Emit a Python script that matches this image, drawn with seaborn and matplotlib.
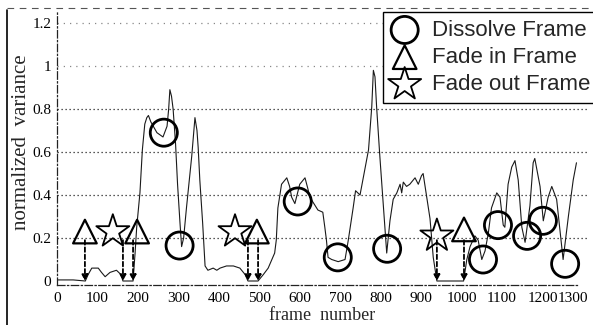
"""Normalized variance per frame with dissolve / fade-in / fade-out frames marked."""
import numpy as np
import pandas as pd
import matplotlib
matplotlib.use("Agg")
import matplotlib.pyplot as plt
import matplotlib.transforms as mtransforms
import seaborn as sns
from matplotlib.lines import Line2D

# --- data ---
FRAMES = [0, 40, 70, 77, 86, 102, 110, 119, 131, 147, 158, 163, 188, 193, 197,
          205, 211, 217, 222, 226, 232, 247, 262, 272, 276, 279, 283, 287, 293,
          298, 304, 308, 313, 320, 333, 341, 346, 349, 353, 360, 366, 373, 386,
          395, 403, 419, 436, 452, 465, 472, 497, 510, 522, 531, 538, 542, 546,
          555, 568, 575, 580, 588, 600, 613, 620, 625, 645, 657, 662, 666, 670,
          679, 695, 712, 720, 732, 738, 749, 757, 761, 770, 778, 782, 786, 790,
          798, 807, 815, 823, 831, 840, 848, 852, 856, 864, 872, 885, 893, 901,
          905, 914, 922, 930, 939, 1005, 1013, 1021, 1033, 1041, 1050, 1058,
          1066, 1074, 1087, 1095, 1103, 1107, 1115, 1124, 1132, 1140, 1149, 1157,
          1169, 1177, 1181, 1194, 1202, 1214, 1223, 1235, 1243, 1251, 1264, 1276,
          1284]
VARIANCE = [0.005, 0.005, 0.0, 0.03, 0.06, 0.06, 0.04, 0.02, 0.04, 0.05, 0.03,
            0.0, 0.0, 0.13, 0.25, 0.41, 0.61, 0.73, 0.76, 0.77, 0.74, 0.69,
            0.67, 0.72, 0.80, 0.89, 0.86, 0.80, 0.64, 0.45, 0.27, 0.16, 0.20,
            0.34, 0.58, 0.76, 0.70, 0.62, 0.47, 0.27, 0.07, 0.05, 0.06, 0.05,
            0.06, 0.07, 0.07, 0.06, 0.03, 0.0, 0.0, 0.03, 0.06, 0.10, 0.13,
            0.19, 0.34, 0.45, 0.48, 0.44, 0.39, 0.36, 0.45, 0.48, 0.43, 0.39,
            0.33, 0.32, 0.25, 0.19, 0.11, 0.10, 0.09, 0.10, 0.19, 0.34, 0.42,
            0.40, 0.48, 0.52, 0.61, 0.81, 0.98, 0.95, 0.81, 0.58, 0.34, 0.13,
            0.28, 0.38, 0.41, 0.45, 0.41, 0.46, 0.44, 0.45, 0.48, 0.45, 0.49,
            0.50, 0.39, 0.29, 0.11, 0.0, 0.0, 0.10, 0.16, 0.21, 0.19, 0.10,
            0.14, 0.22, 0.34, 0.41, 0.39, 0.26, 0.25, 0.45, 0.53, 0.56, 0.47,
            0.25, 0.18, 0.35, 0.55, 0.57, 0.44, 0.28, 0.39, 0.44, 0.38, 0.24,
            0.10, 0.30, 0.47, 0.55]

DISSOLVE_X = [264, 303, 595, 694, 816, 1053, 1090, 1162, 1201, 1256]
DISSOLVE_Y = [0.69, 0.165, 0.37, 0.11, 0.15, 0.10, 0.26, 0.21, 0.28, 0.08]
FADE_IN_X = [69, 198, 494, 1006]
FADE_IN_Y = [0.23, 0.23, 0.23, 0.24]
FADE_OUT_X = [138, 440, 939]
FADE_OUT_Y = [0.23, 0.23, 0.21]
ARROW_X = [69, 163, 188, 472, 497, 939, 1006]
ARROW_TOP = 0.19

Y_TICKS = [0, 0.2, 0.4, 0.6, 0.8, 1.0, 1.2]
Y_TICKLABELS = ["0", "0.2", "0.4", "0.6", "0.8", "1", "1.2"]
X_TICKS = list(range(0, 1301, 100))

curve = pd.DataFrame({"frame": FRAMES, "variance": VARIANCE})

sns.set_style("white")
plt.rcParams["font.family"] = ["Liberation Serif", "DejaVu Serif"]

W, H = 593, 325
fig = plt.figure(figsize=(W / 100, H / 100), dpi=100)
ax = fig.add_axes([57 / W, 1 - 285.3 / H, (589 - 57) / W, (285.3 - 12.3) / H])

# dotted grid lines (upper two fainter, as in the scan)
for yv in Y_TICKS[1:]:
    faint = yv > 0.9
    ax.axhline(yv, color="#888888" if faint else "#222222", lw=0.9,
               ls=(0, (1, 2.2)) if not faint else (0, (1, 4)), zorder=0)

sns.lineplot(data=curve, x="frame", y="variance", ax=ax, color="#1a1a1a",
             lw=0.8, estimator=None, sort=False)

for xa in ARROW_X:
    ax.annotate("", xy=(xa, 0.0), xytext=(xa, ARROW_TOP),
                arrowprops=dict(arrowstyle="-|>,head_length=0.35,head_width=0.18",
                                color="black", lw=1.3, ls=(0, (2.5, 1.5)),
                                shrinkA=0, shrinkB=0))

sns.scatterplot(x=DISSOLVE_X, y=DISSOLVE_Y, ax=ax, marker="o", s=19.5 ** 2,
                facecolor="none", edgecolor="black", linewidth=2.0,
                label="Dissolve Frame", zorder=5)
sns.scatterplot(x=FADE_IN_X, y=FADE_IN_Y, ax=ax, marker="^", s=17 ** 2,
                facecolor="none", edgecolor="black", linewidth=1.6,
                label="Fade in Frame", zorder=5)
sns.scatterplot(x=FADE_OUT_X, y=FADE_OUT_Y, ax=ax, marker="*", s=25 ** 2,
                facecolor="none", edgecolor="black", linewidth=1.3,
                label="Fade out Frame", zorder=5)

ax.set_xlim(0, 1315)
ax.set_ylim(-0.02, 1.25)
ax.set_xticks(X_TICKS)
ax.set_xticklabels([str(t) for t in X_TICKS])
ax.set_yticks(Y_TICKS)
ax.set_yticklabels(Y_TICKLABELS)
ax.tick_params(axis="both", direction="in", length=3, width=0.8,
               labelsize=11, colors="black")
ax.tick_params(axis="x", pad=5)
ax.tick_params(axis="y", pad=4)
# last x label sits a little inside the edge in the scan
last = ax.get_xticklabels()[-1]
last.set_transform(last.get_transform()
                   + mtransforms.ScaledTranslation(-10 / 100, 0, fig.dpi_scale_trans))

for side in ("top", "right"):
    ax.spines[side].set_visible(False)
for side in ("left", "bottom"):
    ax.spines[side].set_linestyle((0, (6, 2, 1, 2)))
    ax.spines[side].set_linewidth(0.9)
    ax.spines[side].set_color("#222222")
ax.spines["bottom"].set_bounds(0, 1290)

ax.set_xlabel("frame  number", fontsize=13)
ax.set_ylabel("normalized  variance", fontsize=15)
ax.xaxis.set_label_coords((322 - 57) / (589 - 57), -(307 - 285.3) / (285.3 - 12.3))
ax.yaxis.set_label_coords(-(57 - 31) / (589 - 57), (285.3 - 142) / (285.3 - 12.3))

leg = ax.legend(loc="upper left", bbox_to_anchor=(383 / W, 1 - 12 / H),
                bbox_transform=fig.transFigure, borderaxespad=0,
                prop={"family": ["Liberation Sans", "DejaVu Sans"], "size": 16},
                frameon=True, fancybox=False, edgecolor="black",
                framealpha=1, borderpad=0.35, labelspacing=0.28,
                handlelength=1.25, handletextpad=0.6)
leg.get_frame().set_linewidth(1.0)

# scan frame: solid left edge, faint dashed top edge
fig.add_artist(Line2D([7 / W, 7 / W], [0, 1 - 10 / H], color="black", lw=1.2))
fig.add_artist(Line2D([7 / W, 1], [1 - 8 / H, 1 - 8 / H], color="#555555",
                      lw=0.8, ls=(0, (6, 5))))

fig.savefig("out.png", dpi=100)
